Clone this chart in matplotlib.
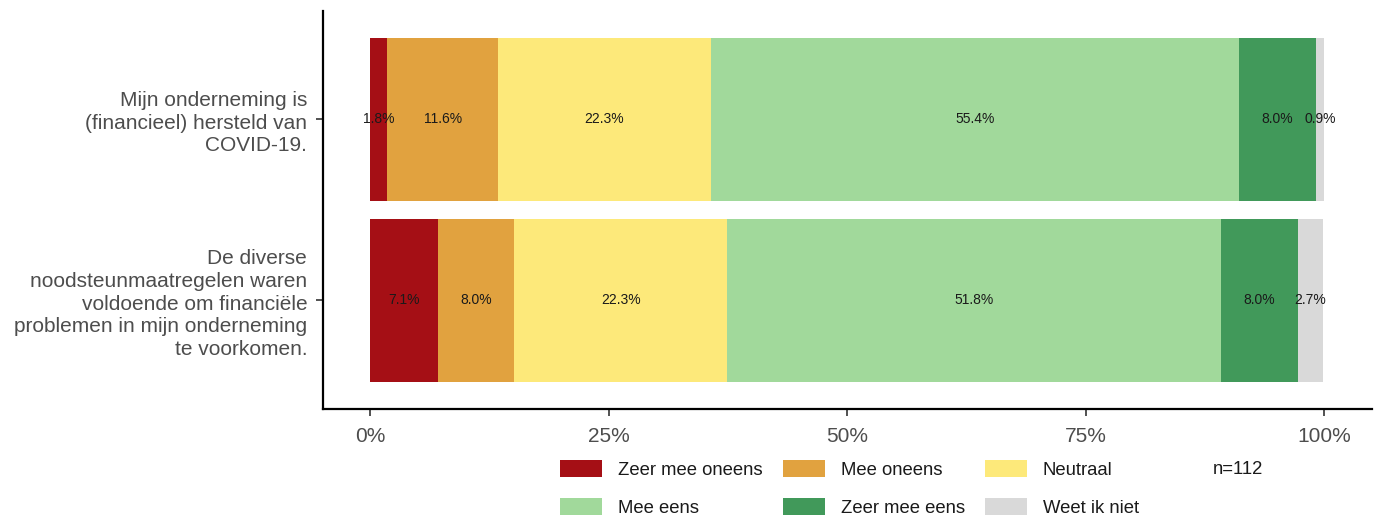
import matplotlib
matplotlib.use("Agg")
import matplotlib.pyplot as plt
import numpy as np
from matplotlib.patches import Patch

plt.rcParams['font.family'] = ['Liberation Sans', 'DejaVu Sans']

questions = [
    "Mijn onderneming is\n(financieel) hersteld van\nCOVID-19.",
    "De diverse\nnoodsteunmaatregelen waren\nvoldoende om financiële\nproblemen in mijn onderneming\nte voorkomen.",
]
categories = ["Zeer mee oneens", "Mee oneens", "Neutraal", "Mee eens", "Zeer mee eens", "Weet ik niet"]
values = {
    "Zeer mee oneens": [1.8, 7.1],
    "Mee oneens": [11.6, 8.0],
    "Neutraal": [22.3, 22.3],
    "Mee eens": [55.4, 51.8],
    "Zeer mee eens": [8.0, 8.0],
    "Weet ik niet": [0.9, 2.7],
}
colors = ["#A50F15", "#E1A23F", "#FDE97A", "#A1D99B", "#41995A", "#D9D9D9"]
xticks = [0, 25, 50, 75, 100]
xticklabels = ["0%", "25%", "50%", "75%", "100%"]
n_label = "n=112"

W, H = 1380, 521
fig = plt.figure(figsize=(W/100, H/100), dpi=100)
ax_l, ax_r, ax_t, ax_b = 322.5, 1372, 10.5, 409
ax = fig.add_axes([ax_l/W, 1-ax_b/H, (ax_r-ax_l)/W, (ax_b-ax_t)/H])

ypos = np.arange(len(questions))
left = np.zeros(len(questions))
for cat, col in zip(categories, colors):
    vals = np.array(values[cat])
    ax.barh(ypos, vals, left=left, height=0.9, color=col, edgecolor='none')
    for y, l, v in zip(ypos, left, vals):
        ax.text(l + v/2, y, f"{v:.1f}%", ha='center', va='center', fontsize=10, color='#1a1a1a')
    left = left + vals

ax.set_xlim(-5, 105)
ax.set_ylim(len(questions) - 0.4, -0.6)
ax.set_yticks(ypos)
ax.set_yticklabels(questions, fontsize=15, color='#4d4d4d', linespacing=1.25)
ax.set_xticks(xticks)
ax.set_xticklabels(xticklabels, fontsize=15, color='#4d4d4d')
for s in ['top', 'right']:
    ax.spines[s].set_visible(False)
for s in ['left', 'bottom']:
    ax.spines[s].set_linewidth(1.6)
    ax.spines[s].set_color('black')
ax.tick_params(axis='both', length=5, width=1.2, color='#333333')
ax.tick_params(axis='y', pad=6)
ax.tick_params(axis='x', pad=8)

order = [0, 3, 1, 4, 2, 5]
handles = [Patch(facecolor=colors[i], edgecolor='none', label=categories[i]) for i in order]
fig.legend(handles=handles, loc='upper left', bbox_to_anchor=(560/W, 1-460/H),
           ncol=3, frameon=False, fontsize=13.3, handlelength=2.27, handleheight=1.08,
           handletextpad=0.86, columnspacing=1.1, labelspacing=1.0, borderpad=0,
           borderaxespad=0, labelcolor='#1a1a1a')
fig.text(1213/W, 1-469/H, n_label, fontsize=13.3, color='#1a1a1a', ha='left', va='center')

fig.savefig("out.png", dpi=100)
